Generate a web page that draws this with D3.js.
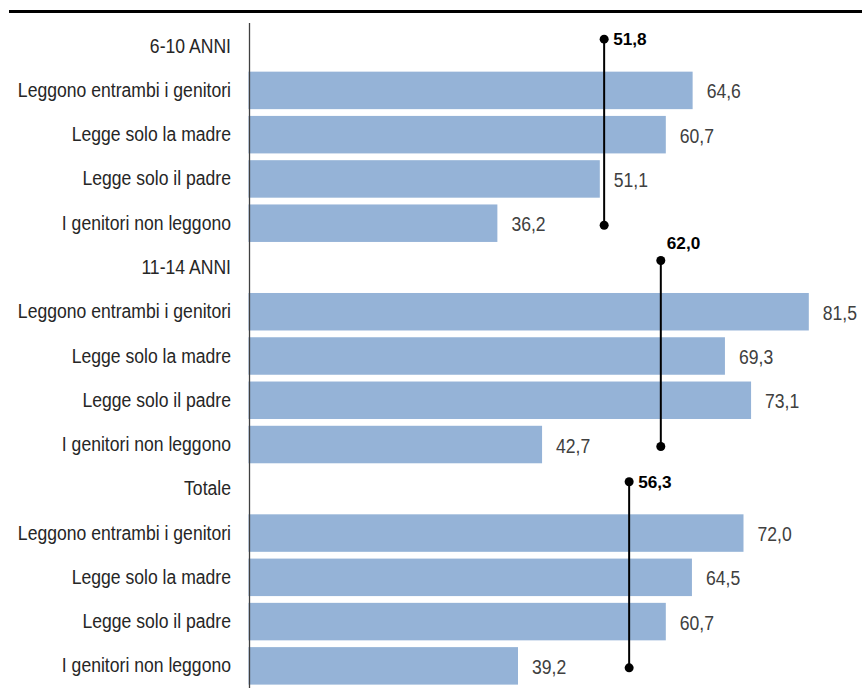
<!DOCTYPE html>
<html>
<head>
<meta charset="utf-8">
<script src="https://cdn.jsdelivr.net/npm/d3@7"></script>
<style>
  html, body { margin: 0; padding: 0; background: #fff; }
  svg { display: block; }
</style>
</head>
<body>
<script>
// Age groups and reading habits of the parents
const groups = ["6-10 ANNI", "11-14 ANNI", "Totale"];
const parentHabits = [
  "Leggono entrambi i genitori",
  "Legge solo la madre",
  "Legge solo il padre",
  "I genitori non leggono"
];
// Share of readers among children, per group (%)
const values6to10 = [64.6, 60.7, 51.1, 36.2];
const values11to14 = [81.5, 69.3, 73.1, 42.7];
const valuesTotal = [72.0, 64.5, 60.7, 39.2];
// Group averages shown by the vertical marker lines
const groupAverages = [51.8, 62.0, 56.3];

const seriesByGroup = [values6to10, values11to14, valuesTotal];

// Flattened rows: one header row per group followed by its four bars
const rows = [];
groups.forEach((g, gi) => {
  rows.push({ key: "h" + gi, label: g, header: true, group: gi });
  parentHabits.forEach((c, ci) => {
    rows.push({ key: "r" + gi + "-" + ci, label: c, header: false, group: gi, value: seriesByGroup[gi][ci] });
  });
});

const W = 862, H = 688;
const textStretch = 1.18;
const fmt = v => d3.format(".1f")(v).replace(".", ",");

const svg = d3.select("body").append("svg")
  .attr("width", W).attr("height", H);

const x = d3.scaleLinear().domain([0, 90]).range([248.5, 248.5 + 90 * 6.875]);
// secondary axis used by the average markers
const x2 = d3.scaleLinear().domain([0, 100]).range([316.4, 871.9]);
const y = d3.scaleBand().domain(rows.map(r => r.key)).range([24, 688]).paddingInner(0.153).paddingOuter(0.0765);

// top rule
svg.append("line")
  .attr("x1", 9).attr("x2", W).attr("y1", 11.5).attr("y2", 11.5)
  .attr("stroke", "#000").attr("stroke-width", 3);

// bars
const barRows = rows.filter(r => !r.header);
svg.append("g").selectAll("rect").data(barRows).join("rect")
  .attr("x", x(0))
  .attr("y", d => y(d.key))
  .attr("width", d => x(d.value) - x(0))
  .attr("height", y.bandwidth())
  .attr("fill", "#95b3d7");

// vertical category axis
const yAxis = d3.axisLeft(y).tickSize(0).tickFormat(() => "");
const axisG = svg.append("g").attr("transform", `translate(${x(0) + 1},0)`).call(yAxis);
axisG.select(".domain").attr("stroke", "#404040").attr("stroke-width", 1.3).attr("d", "M0,23V688");

// category labels
svg.append("g").selectAll("text").data(rows).join("text")
  .attr("transform", d => `translate(231,${y(d.key) + y.bandwidth() / 2 + 6.5}) scale(1,${textStretch})`)
  .attr("text-anchor", "end")
  .attr("font-family", "Liberation Sans, Arial, sans-serif")
  .attr("font-size", 17.6)
  .attr("fill", "#262626")
  .text(d => d.label);

// value labels
svg.append("g").selectAll("text").data(barRows).join("text")
  .attr("transform", d => `translate(${x(d.value) + 14},${y(d.key) + y.bandwidth() / 2 + 8}) scale(1,${textStretch})`)
  .attr("font-family", "Liberation Sans, Arial, sans-serif")
  .attr("font-size", 17.6)
  .attr("fill", "#404040")
  .text(d => fmt(d.value));

// average markers: line from the header row down to the last bar of the group
const markerData = groupAverages.map((v, gi) => ({
  value: v,
  top: y("h" + gi) + y.bandwidth() / 2 - 7,
  bottom: y("r" + gi + "-3") + y.bandwidth() / 2 + 2,
  labelAbove: gi === 1
}));

const mk = svg.append("g");
mk.selectAll("line").data(markerData).join("line")
  .attr("x1", d => x2(d.value)).attr("x2", d => x2(d.value))
  .attr("y1", d => d.top).attr("y2", d => d.bottom)
  .attr("stroke", "#000").attr("stroke-width", 2);
mk.selectAll("circle.top").data(markerData).join("circle").attr("class", "top")
  .attr("cx", d => x2(d.value)).attr("cy", d => d.top).attr("r", 4.5).attr("fill", "#000");
mk.selectAll("circle.bottom").data(markerData).join("circle").attr("class", "bottom")
  .attr("cx", d => x2(d.value)).attr("cy", d => d.bottom).attr("r", 4.5).attr("fill", "#000");
mk.selectAll("text").data(markerData).join("text")
  .attr("x", d => x2(d.value) + (d.labelAbove ? 6 : 9))
  .attr("y", d => d.labelAbove ? d.top - 11 : d.top + 6)
  .attr("font-family", "Liberation Sans, Arial, sans-serif")
  .attr("font-size", 17.2)
  .attr("font-weight", "bold")
  .attr("fill", "#000")
  .text(d => fmt(d.value));
</script>
</body>
</html>
